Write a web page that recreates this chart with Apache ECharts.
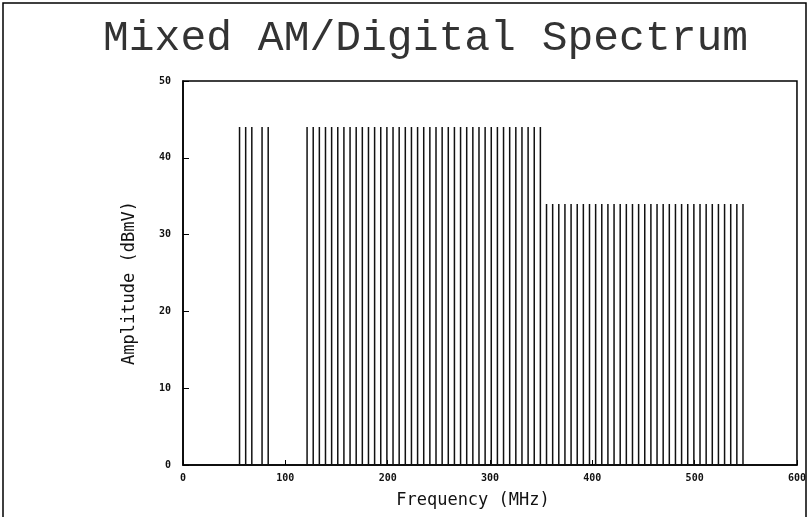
<!DOCTYPE html>
<html>
<head>
<meta charset="utf-8">
<script src="https://cdn.jsdelivr.net/npm/echarts@6/dist/echarts.min.js"></script>
<style>
  html, body { margin: 0; padding: 0; background: #fff; }
  #chart { width: 809px; height: 517px; }
</style>
</head>
<body>
<div id="chart"></div>
<script>
// carrier frequencies (MHz)
var lowBandFreqs = [55.25, 61.25, 67.25, 77.25, 83.25]
var midBandFreqs = [121.25, 127.25, 133.25, 139.25, 145.25, 151.25, 157.25, 163.25, 169.25,
  175.25, 181.25, 187.25, 193.25, 199.25, 205.25, 211.25, 217.25, 223.25, 229.25, 235.25,
  241.25, 247.25, 253.25, 259.25, 265.25, 271.25, 277.25, 283.25, 289.25, 295.25, 301.25,
  307.25, 313.25, 319.25, 325.25, 331.25, 337.25, 343.25, 349.25]
var highBandFreqs = [355.25, 361.25, 367.25, 373.25, 379.25, 385.25, 391.25, 397.25, 403.25,
  409.25, 415.25, 421.25, 427.25, 433.25, 439.25, 445.25, 451.25, 457.25, 463.25, 469.25,
  475.25, 481.25, 487.25, 493.25, 499.25, 505.25, 511.25, 517.25, 523.25, 529.25, 535.25,
  541.25, 547.25]
// amplitude of each band (dBmV)
var bandLevels = [44, 44, 34]
var xTicks = [0, 100, 200, 300, 400, 500, 600]
var yTicks = [0, 10, 20, 30, 40, 50]

var bands = [lowBandFreqs, midBandFreqs, highBandFreqs]

function spikes (freqs, level) {
  return freqs.map(function (f) { return [f, level] })
}

var chart = echarts.init(document.getElementById('chart'))
var labelStyle = { fontFamily: 'DejaVu Sans Mono', fontSize: 10, fontWeight: 'bold', color: '#111' }
var nameStyle = { fontFamily: 'DejaVu Sans Mono', fontSize: 17, color: '#111' }

chart.setOption({
  backgroundColor: '#fff',
  animation: false,
  title: {
    text: 'Mixed AM/Digital Spectrum',
    left: 98,
    top: 12,
    textStyle: {
      fontFamily: 'Liberation Mono',
      fontWeight: 'normal',
      fontSize: 43,
      color: '#333'
    }
  },
  graphic: [{
    type: 'rect',
    shape: { x: 3, y: 3, width: 803, height: 540 },
    style: { fill: 'none', stroke: '#000', lineWidth: 1.5 },
    silent: true
  }],
  grid: {
    left: 183,
    right: 12,
    top: 81,
    bottom: 52,
    show: true,
    borderColor: '#000',
    borderWidth: 1.5
  },
  xAxis: {
    type: 'value',
    min: xTicks[0],
    max: xTicks[xTicks.length - 1],
    interval: 100,
    name: 'Frequency (MHz)',
    nameLocation: 'middle',
    nameGap: 27,
    nameTextStyle: Object.assign({ padding: [0, 34, 0, 0] }, nameStyle),
    axisLine: { lineStyle: { color: '#000', width: 1.5 } },
    axisTick: { inside: true, length: 5, lineStyle: { color: '#000' } },
    axisLabel: Object.assign({ margin: 8 }, labelStyle),
    splitLine: { show: false }
  },
  yAxis: {
    type: 'value',
    min: yTicks[0],
    max: yTicks[yTicks.length - 1],
    interval: 10,
    name: 'Amplitude (dBmV)',
    nameLocation: 'middle',
    nameGap: 45,
    nameTextStyle: Object.assign({ padding: [0, 20, 0, 0] }, nameStyle),
    axisLine: { show: true, lineStyle: { color: '#000', width: 1.5 } },
    axisTick: { show: true, inside: true, length: 6, lineStyle: { color: '#000' } },
    axisLabel: Object.assign({ margin: 12 }, labelStyle),
    splitLine: { show: false }
  },
  series: bands.map(function (freqs, i) {
    return {
      type: 'bar',
      barWidth: 1.5,
      barGap: '-100%',
      itemStyle: { color: '#111' },
      data: spikes(freqs, bandLevels[i])
    }
  })
})
</script>
</body>
</html>
